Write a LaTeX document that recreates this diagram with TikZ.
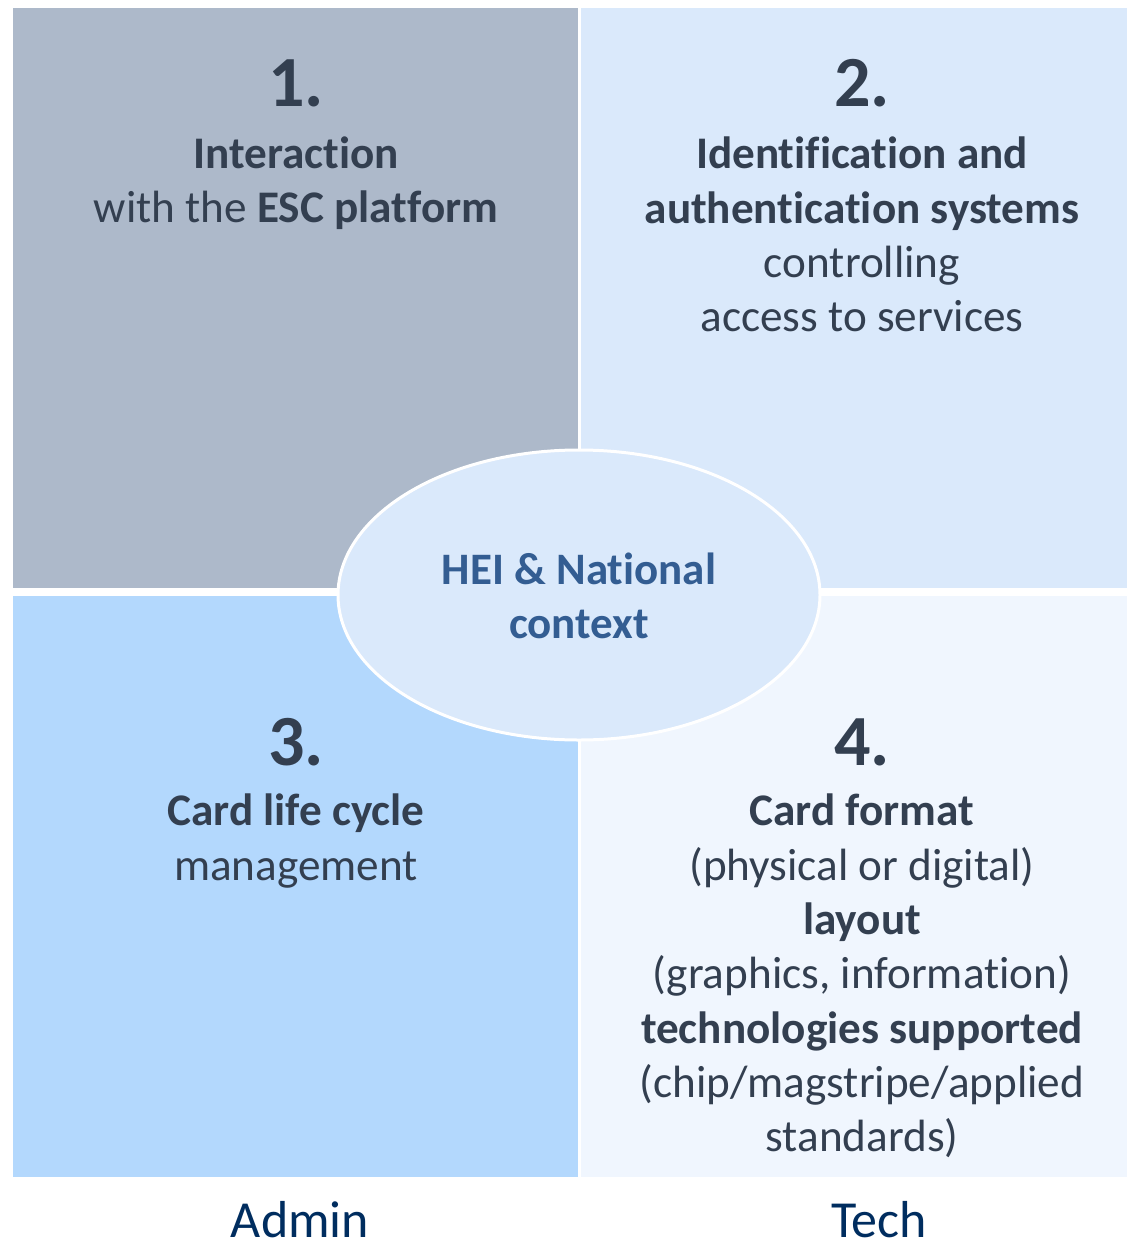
\documentclass[tikz,border=0pt]{standalone}
\usepackage{fontspec}
\setmainfont{Carlito}[Ligatures=NoCommon]
\usetikzlibrary{shapes.geometric}
\definecolor{qTL}{RGB}{173,185,202}
\definecolor{qTR}{RGB}{218,233,251}
\definecolor{qBL}{RGB}{179,216,253}
\definecolor{qBR}{RGB}{240,246,254}
\definecolor{ellfill}{RGB}{218,233,251}
\definecolor{txt}{RGB}{51,63,80}
\definecolor{elltxt}{RGB}{51,93,146}
\definecolor{navy}{RGB}{0,45,95}
\begin{document}
\begin{tikzpicture}[x=1pt,y=-1pt,
  numtext/.style={anchor=base, inner sep=0pt, text=txt, font=\fontsize{72}{86}\selectfont\bfseries},
  linetext/.style={anchor=base, inner sep=0pt, text=txt, font=\fontsize{45.2}{54}\selectfont},
  elltext/.style={anchor=base, inner sep=0pt, text=elltxt, font=\fontsize{45}{55}\selectfont\bfseries},
  foot/.style={anchor=base, inner sep=0pt, text=navy, font=\fontsize{52}{62}\selectfont},
  ctxshape/.style={ellipse, draw=white, line width=3pt, fill=ellfill, minimum width=482pt, minimum height=290pt, inner sep=0pt}
]
\useasboundingbox (0,0) rectangle (1127,1244);
\fill[white] (0,0) rectangle (1127,1244);
% quadrants
\fill[qTL] (13,8) rectangle (578,588);
\fill[qTR] (581,8) rectangle (1127,588);
\fill[qBL] (13,596) rectangle (578,1177);
\fill[qBR] (581,596) rectangle (1127,1177);
% centre ellipse
\node[ctxshape] (ctx) at (579,595) {};
\node[elltext] (ctx1) at (579,584) {HEI \& National};
\node[elltext] (ctx2) at (579,638) {context};
% quadrant 1
\node[numtext] (n1) at (296,107) {1.};
\node[linetext] (a1) at (296,168) {\textbf{Interaction}};
\node[linetext] (a2) at (296,222) {with the \textbf{ESC platform}};
% quadrant 2
\node[numtext] (n2) at (862,107) {2.};
\node[linetext] (b1) at (862,168) {\textbf{Identification and}};
\node[linetext] (b2) at (862,223) {\textbf{authentication systems}};
\node[linetext] (b3) at (862,277) {controlling};
\node[linetext] (b4) at (862,331) {access to services};
% quadrant 3
\node[numtext] (n3) at (296,765) {3.};
\node[linetext] (c1) at (296,825) {\textbf{Card life cycle}};
\node[linetext] (c2) at (296,880) {management};
% quadrant 4
\node[numtext] (n4) at (862,765) {4.};
\node[linetext] (d1) at (862,825) {\textbf{Card format}};
\node[linetext] (d2) at (862,880) {(physical or digital)};
\node[linetext] (d3) at (862,934) {\textbf{layout}};
\node[linetext] (d4) at (862,988) {(graphics, information)};
\node[linetext] (d5) at (862,1043) {\textbf{technologies supported}};
\node[linetext] (d6) at (862,1097) {(chip/magstripe/applied};
\node[linetext] (d7) at (862,1151) {standards)};
% footer labels
\node[foot] (admin) at (300,1237) {Admin};
\node[foot] (tech) at (879,1237) {Tech};
\end{tikzpicture}
\end{document}
